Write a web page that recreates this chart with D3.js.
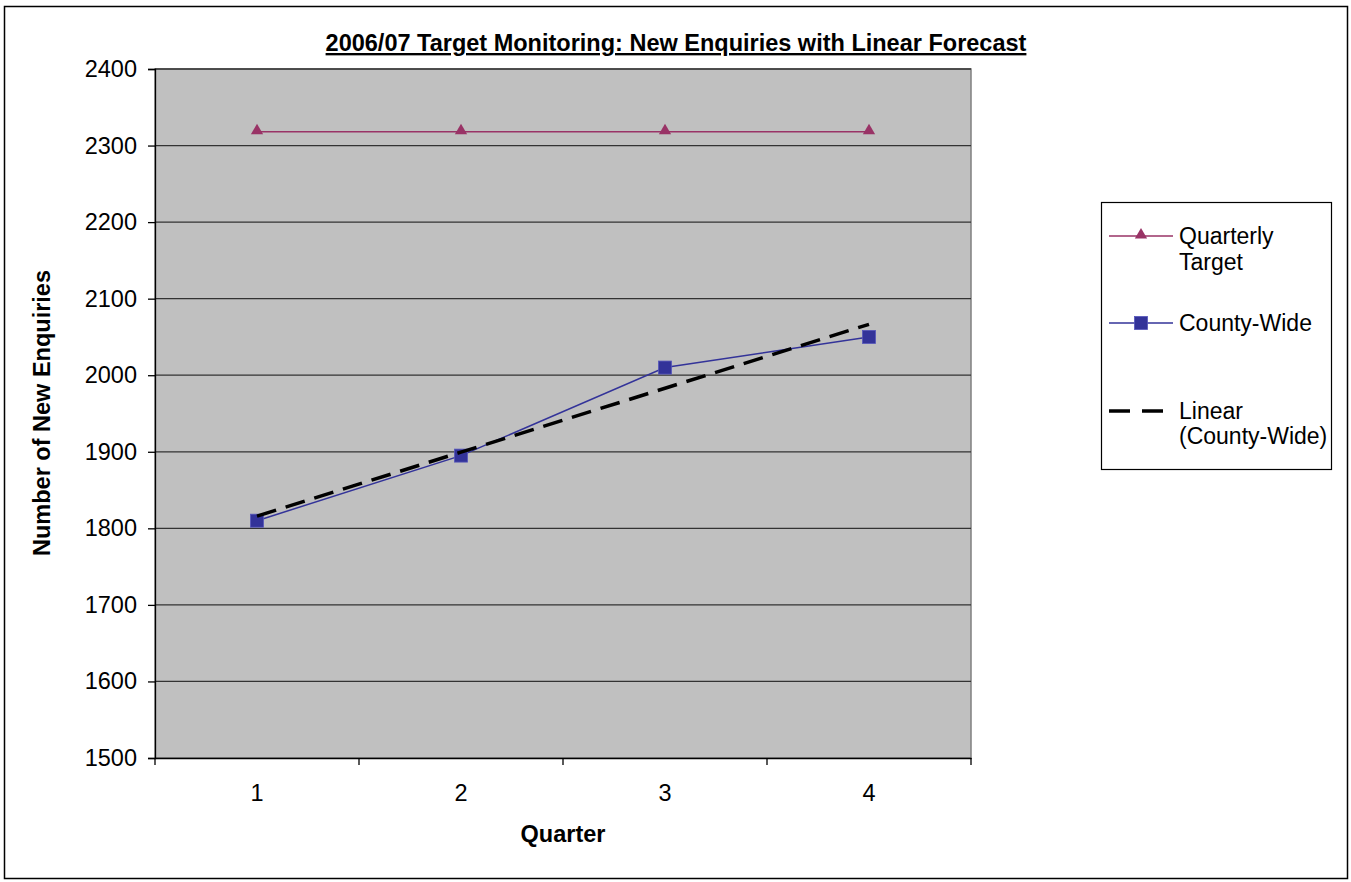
<!DOCTYPE html>
<html>
<head>
<meta charset="utf-8">
<script src="https://d3js.org/d3.v7.min.js"></script>
<style>
  body { margin: 0; background: #fff; }
  svg { display: block; font-family: "Liberation Sans", Arial, sans-serif; }
</style>
</head>
<body>
<svg id="chart" width="1351" height="882"></svg>
<script>
const quarters = ["1", "2", "3", "4"]
const target = [2318, 2318, 2318, 2318]
const countyWide = [1810, 1895, 2010, 2050]
const yTicks = [1500, 1600, 1700, 1800, 1900, 2000, 2100, 2200, 2300, 2400]

const svg = d3.select("#chart")

// outer chart border
svg.append("rect")
  .attr("x", 4.5).attr("y", 6.5).attr("width", 1343).attr("height", 872)
  .attr("fill", "#fff").attr("stroke", "#000").attr("stroke-width", 1.5)

const plotL = 155, plotR = 971, plotT = 69, plotB = 758

const x = d3.scaleBand().domain(quarters).range([plotL, plotR])
const xc = q => x(q) + x.bandwidth() / 2
const y = d3.scaleLinear().domain([1500, 2400]).range([plotB, plotT])

// plot area
svg.append("rect")
  .attr("x", plotL).attr("y", plotT).attr("width", plotR - plotL).attr("height", plotB - plotT)
  .attr("fill", "#c0c0c0").attr("stroke", "#808080").attr("stroke-width", 1.5)

// gridlines
svg.append("g").selectAll("line")
  .data(yTicks.slice(1))
  .join("line")
  .attr("x1", plotL).attr("x2", plotR)
  .attr("y1", d => y(d)).attr("y2", d => y(d))
  .attr("stroke", "#333").attr("stroke-width", 1.3)

// y axis
const yAxis = svg.append("g")
  .attr("transform", `translate(${plotL},0)`)
  .call(d3.axisLeft(y).tickValues(yTicks).tickSize(7).tickPadding(11).tickFormat(d3.format("d")))
yAxis.select(".domain").attr("stroke", "#000").attr("stroke-width", 1.3)
yAxis.selectAll(".tick line").attr("stroke", "#000").attr("stroke-width", 1.3)
yAxis.selectAll("text").attr("font-size", 23.5).attr("fill", "#000").attr("font-family", "Liberation Sans, Arial")

// x axis: labels centred in bands, ticks on band edges
const xAxis = svg.append("g")
  .attr("transform", `translate(0,${plotB})`)
  .call(d3.axisBottom(x).tickSize(0).tickPadding(26))
xAxis.select(".domain").attr("stroke", "#000").attr("stroke-width", 1.5)
xAxis.selectAll("text").attr("font-size", 23.5).attr("fill", "#000").attr("font-family", "Liberation Sans, Arial")
xAxis.selectAll(".edge")
  .data(quarters.map(q => x(q)).concat([plotR]))
  .join("line")
  .attr("class", "edge")
  .attr("x1", d => d).attr("x2", d => d)
  .attr("y1", 0).attr("y2", 7)
  .attr("stroke", "#000").attr("stroke-width", 1.3)

// linear trend (least squares on County-Wide)
const xs = quarters.map(Number)
const mx = d3.mean(xs), my = d3.mean(countyWide)
const slope = d3.sum(xs, (v, i) => (v - mx) * (countyWide[i] - my)) / d3.sum(xs, v => (v - mx) ** 2)
const trend = xs.map(v => my + slope * (v - mx))

const line = d3.line().x((d, i) => xc(quarters[i])).y(d => y(d))

svg.append("path").datum(target)
  .attr("d", line).attr("fill", "none").attr("stroke", "#993366").attr("stroke-width", 1.5)
svg.append("g").selectAll("path")
  .data(target)
  .join("path")
  .attr("d", d3.symbol(d3.symbolTriangle, 65))
  .attr("transform", (d, i) => `translate(${xc(quarters[i])},${y(d) - 1})`)
  .attr("fill", "#993366")

svg.append("path").datum(countyWide)
  .attr("d", line).attr("fill", "none").attr("stroke", "#333399").attr("stroke-width", 1.5)
svg.append("g").selectAll("rect")
  .data(countyWide)
  .join("rect")
  .attr("x", (d, i) => xc(quarters[i]) - 6.5).attr("y", d => y(d) - 6.5)
  .attr("width", 13).attr("height", 13)
  .attr("fill", "#333399").attr("stroke", "#5555bb").attr("stroke-width", 0.8)

svg.append("path").datum(trend)
  .attr("d", line).attr("fill", "none").attr("stroke", "#000")
  .attr("stroke-width", 3.5).attr("stroke-dasharray", "20,10")

// title
svg.append("text")
  .attr("x", 676).attr("y", 51)
  .attr("text-anchor", "middle").attr("font-size", 23.5).attr("font-weight", "bold")
  .attr("text-decoration", "underline")
  .text("2006/07 Target Monitoring: New Enquiries with Linear Forecast")

// axis titles
svg.append("text")
  .attr("x", 563).attr("y", 842)
  .attr("text-anchor", "middle").attr("font-size", 23.5).attr("font-weight", "bold")
  .text("Quarter")
svg.append("text")
  .attr("transform", "translate(50,413) rotate(-90)")
  .attr("text-anchor", "middle").attr("font-size", 23.5).attr("font-weight", "bold")
  .text("Number of New Enquiries")

// legend
const legend = svg.append("g")
legend.append("rect")
  .attr("x", 1101.5).attr("y", 202.5).attr("width", 230).attr("height", 267)
  .attr("fill", "#fff").attr("stroke", "#000").attr("stroke-width", 1.2)

legend.append("line").attr("x1", 1109).attr("x2", 1173).attr("y1", 236).attr("y2", 236)
  .attr("stroke", "#993366").attr("stroke-width", 1.5)
legend.append("path").attr("d", d3.symbol(d3.symbolTriangle, 65))
  .attr("transform", "translate(1141,235)").attr("fill", "#993366")
legend.append("text").attr("x", 1179).attr("y", 244).attr("font-size", 23).text("Quarterly")
legend.append("text").attr("x", 1179).attr("y", 270).attr("font-size", 23).text("Target")

legend.append("line").attr("x1", 1109).attr("x2", 1173).attr("y1", 323).attr("y2", 323)
  .attr("stroke", "#333399").attr("stroke-width", 1.5)
legend.append("rect").attr("x", 1134.5).attr("y", 316.5).attr("width", 13).attr("height", 13)
  .attr("fill", "#333399").attr("stroke", "#5555bb").attr("stroke-width", 0.8)
legend.append("text").attr("x", 1179).attr("y", 331).attr("font-size", 23).text("County-Wide")

legend.append("line").attr("x1", 1109).attr("x2", 1173).attr("y1", 411).attr("y2", 411)
  .attr("stroke", "#000").attr("stroke-width", 3.5).attr("stroke-dasharray", "21,12")
legend.append("text").attr("x", 1179).attr("y", 419).attr("font-size", 23).text("Linear")
legend.append("text").attr("x", 1179).attr("y", 444).attr("font-size", 23).text("(County-Wide)")
</script>
</body>
</html>
